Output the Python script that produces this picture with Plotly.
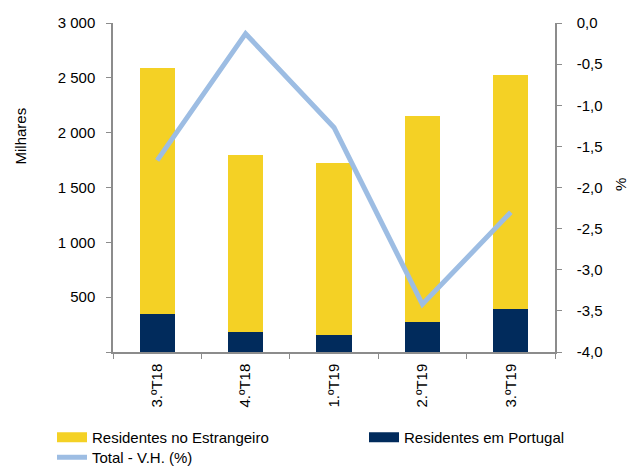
import plotly.graph_objects as go

categories = ["3.ºT18", "4.ºT18", "1.ºT19", "2.ºT19", "3.ºT19"]
residentes_portugal = [344, 180, 152, 273, 392]
residentes_estrangeiro = [2248, 1616, 1568, 1881, 2133]
total_vh = [-1.67, -0.13, -1.27, -3.42, -2.30]

left_tickvals = [0, 500, 1000, 1500, 2000, 2500, 3000]
left_ticktext = ["", "500", "1 000", "1 500", "2 000", "2 500", "3 000"]
right_tickvals = [0, -0.5, -1.0, -1.5, -2.0, -2.5, -3.0, -3.5, -4.0]
right_ticktext = ["0,0", "-0,5", "-1,0", "-1,5", "-2,0", "-2,5", "-3,0", "-3,5", "-4,0"]

YELLOW = "#F4D125"
NAVY = "#012B5C"
LIGHTBLUE = "#9DBDE3"
AXIS = "#8C8C8C"
FONT = "Liberation Sans, Arial, sans-serif"
FS = 15

fig = go.Figure()
fig.add_trace(go.Bar(x=categories, y=residentes_portugal, marker=dict(color=NAVY, line=dict(width=0)),
                     name="Residentes em Portugal", showlegend=False))
fig.add_trace(go.Bar(x=categories, y=residentes_estrangeiro, marker=dict(color=YELLOW, line=dict(width=0)),
                     name="Residentes no Estrangeiro", showlegend=False))
fig.add_trace(go.Scatter(x=categories, y=total_vh, yaxis="y2", mode="lines",
                         line=dict(color=LIGHTBLUE, width=5), name="Total - V.H. (%)", showlegend=False))

# legend entries (wide swatches), each in its own positioned legend
fig.add_trace(go.Scatter(x=[None], y=[None], mode="lines", line=dict(color=YELLOW, width=10),
                         name="Residentes no Estrangeiro", legend="legend"))
fig.add_trace(go.Scatter(x=[None], y=[None], mode="lines", line=dict(color=NAVY, width=10),
                         name="Residentes em Portugal", legend="legend2"))
fig.add_trace(go.Scatter(x=[None], y=[None], mode="lines", line=dict(color=LIGHTBLUE, width=5),
                         name="Total - V.H. (%)", legend="legend3"))

W_PLOT = 630 - 113 - 75
H_PLOT = 466 - 23 - 114

def lx(px):
    return (px - 113) / W_PLOT

def ly(px):
    return (352 - px) / H_PLOT

leg_common = dict(orientation="h", xanchor="left", yanchor="top", bgcolor="rgba(0,0,0,0)",
                  font=dict(size=FS), traceorder="normal")

fig.update_layout(
    width=630, height=466,
    margin=dict(l=113, r=75, t=23, b=114, autoexpand=False),
    paper_bgcolor="white", plot_bgcolor="white",
    font=dict(family=FONT, size=FS, color="black"),
    barmode="stack", bargap=0.6,
    showlegend=True,
    legend=dict(x=lx(52), y=ly(421), **leg_common),
    legend2=dict(x=lx(364), y=ly(421), **leg_common),
    legend3=dict(x=lx(52), y=ly(441), **leg_common),
    xaxis=dict(type="category", showline=True, linecolor=AXIS, linewidth=1.5,
               ticks="outside", tickson="boundaries", ticklen=5, tickcolor=AXIS,
               tickangle=-90, showgrid=False, zeroline=False, tickfont=dict(size=FS),
               ticklabelstandoff=4),
    yaxis=dict(range=[0, 3000], tickvals=left_tickvals, ticktext=left_ticktext,
               showline=True, linecolor=AXIS, linewidth=1.5, ticks="outside", ticklen=5,
               tickcolor=AXIS, showgrid=False, zeroline=False, ticklabelstandoff=8),
    yaxis2=dict(range=[-4, 0], tickvals=right_tickvals, ticktext=right_ticktext,
                overlaying="y", side="right", showline=True, linecolor=AXIS, linewidth=1.5,
                ticks="outside", ticklen=5, tickcolor=AXIS, showgrid=False, zeroline=False,
                ticklabelstandoff=12),
    annotations=[
        dict(text="Milhares", xref="paper", yref="paper", x=lx(19.5), y=ly(136),
             showarrow=False, textangle=-90, xanchor="center", yanchor="middle", font=dict(size=FS)),
        dict(text="%", xref="paper", yref="paper", x=lx(620), y=ly(185),
             showarrow=False, textangle=-90, xanchor="center", yanchor="middle", font=dict(size=FS)),
    ],
)

fig.write_html("out.html", config={"displayModeBar": False},
               post_script="document.body.style.margin='0';document.body.style.overflow='hidden';")
